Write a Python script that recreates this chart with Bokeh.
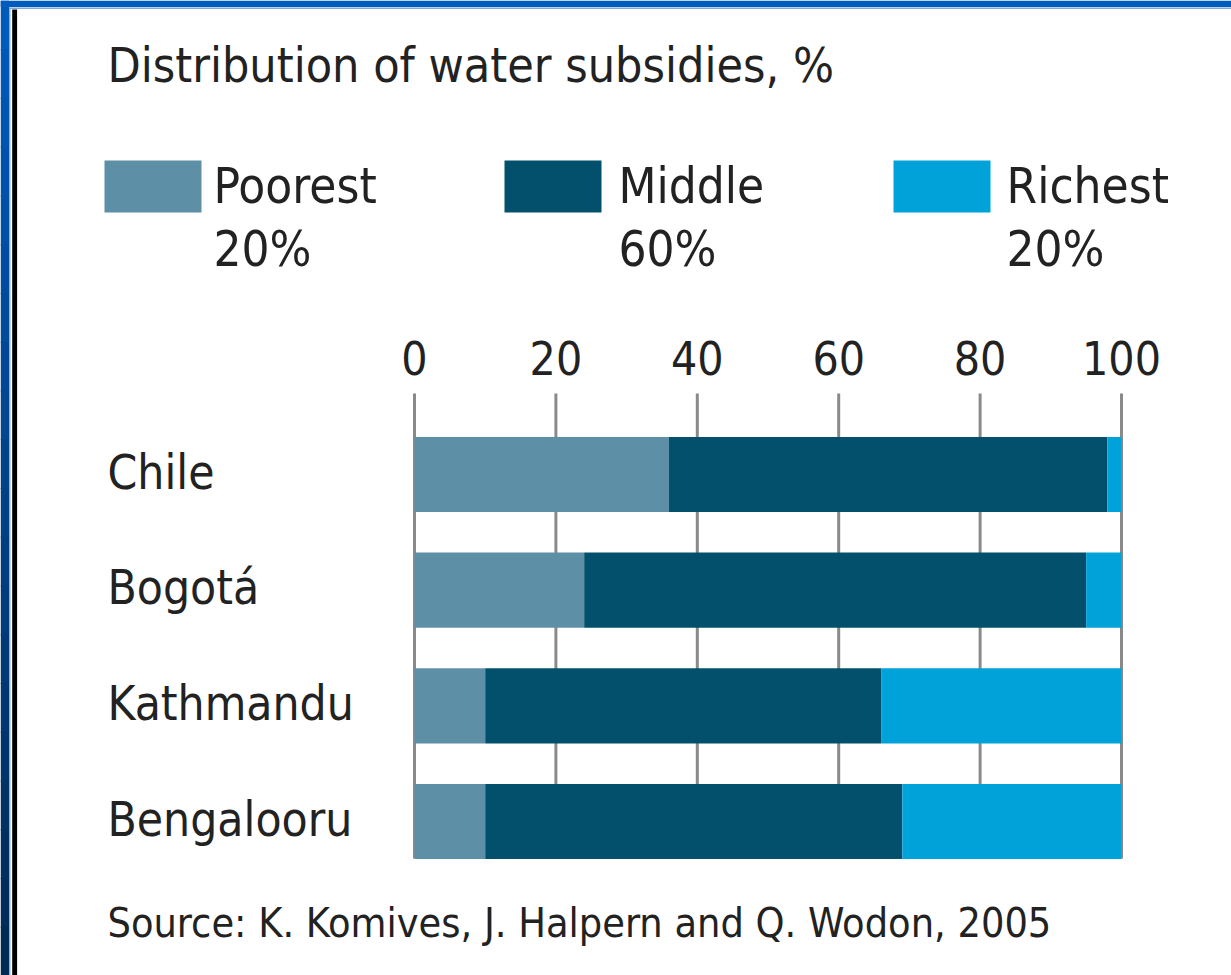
from bokeh.plotting import figure
from bokeh.models import ColumnDataSource, Range1d, Label
from bokeh.core.properties import value
from bokeh.embed import file_html
from bokeh.resources import INLINE

# ---------------- data ----------------
cities = ["Chile", "Bogotá", "Kathmandu", "Bengalooru"]
poorest = [36, 24, 10, 10]
middle = [62, 71, 56, 59]
richest = [2, 5, 34, 31]
tick_values = [0, 20, 40, 60, 80, 100]
tick_labels = ["0", "20", "40", "60", "80", "100"]
series_keys = ["poorest", "middle", "richest"]
legend_names = ["Poorest", "Middle", "Richest"]
legend_shares = ["20%", "60%", "20%"]
colors = ["#5d8fa6", "#02506b", "#00a2da"]
title_text = "Distribution of water subsidies, %"
source_text = "Source: K. Komives, J. Halpern and Q. Wodon, 2005"

# ---------------- layout constants (page pixels) ----------------
FONT = "DejaVu Sans Condensed, DejaVu Sans, sans-serif"
TXT = "#222222"
W, H = 1231, 975
PX_ZERO, PX_PER_UNIT = 414.0, 7.07     # page x of value 0, px per value unit
PY_FIRST, PY_STEP = 474.0, 115.67      # page y of first bar centre, px per row


def X(px):
    return (px - PX_ZERO) / PX_PER_UNIT


def Y(py):
    return (py - PY_FIRST) / PY_STEP


pos = list(range(len(cities)))
src = ColumnDataSource(dict(pos=pos, city=cities, poorest=poorest,
                            middle=middle, richest=richest))

p = figure(width=W, height=H, output_backend="svg", toolbar_location=None,
           x_range=Range1d(X(0), X(W)), y_range=Range1d(Y(H), Y(0)),
           x_axis_location=None, y_axis_location=None,
           min_border=0, min_border_left=0, min_border_right=0,
           min_border_top=0, min_border_bottom=0)
p.outline_line_color = None
p.background_fill_color = "white"
p.border_fill_color = "white"
p.xgrid.visible = False
p.ygrid.visible = False

# ---- frame decorations: blue border with gradient, light rule, black rule ----
nb = 20
band = H / nb


def lerp(a, b, t):
    return int(round(a + (b - a) * t))


band_cols = ["#%02x%02x%02x" % (lerp(0, 0, k / (nb - 1)), lerp(90, 42, k / (nb - 1)),
                                lerp(186, 86, k / (nb - 1))) for k in range(nb)]
p.quad(left=[X(0)] * nb, right=[X(8.5)] * nb,
       top=[Y(k * band) for k in range(nb)], bottom=[Y((k + 1) * band + 1) for k in range(nb)],
       fill_color=band_cols, line_color=None)
p.quad(left=[X(0)], right=[X(W)], top=[Y(0)], bottom=[Y(6.5)],
       fill_color="#005cbc", line_color=None)
p.quad(left=[X(8.5)], right=[X(10)], top=[Y(7)], bottom=[Y(H)],
       fill_color="#8fb0d6", line_color=None)
p.quad(left=[X(8.5)], right=[X(W)], top=[Y(7)], bottom=[Y(8.5)],
       fill_color="#7fa8d8", line_color=None)
p.quad(left=[X(11.7)], right=[X(16.6)], top=[Y(9)], bottom=[Y(H)],
       fill_color="black", line_color=None)

# vertical grid lines at the ticks, from the tick row down to the last bar
p.segment(x0=tick_values, x1=tick_values, y0=Y(393), y1=Y(858),
          line_color="#8a8a8a", line_width=3)

# stacked bars
p.hbar_stack(series_keys, y="pos", height=0.65, color=colors, line_color=None,
             source=src)

# tick labels
p.text(x=tick_values, y=[Y(357.5)] * len(tick_values), text=tick_labels,
       text_font=value(FONT), text_font_size="46px", text_color=TXT,
       text_align="center", text_baseline="alphabetic")

# category labels
p.text(x=[X(107)] * len(cities), y=[i - 2.5 / PY_STEP for i in pos], text=cities,
       text_font=value(FONT), text_font_size="47.5px", text_color=TXT,
       text_align="left", text_baseline="alphabetic")

# title
p.add_layout(Label(x=X(107), y=Y(64), text=title_text, text_font=FONT,
                   text_font_size="48px", text_color=TXT,
                   text_align="left", text_baseline="alphabetic"))

# legend
sw_left = [104, 504, 893]
txt_left = [213, 618, 1006]
p.quad(left=[X(v) for v in sw_left], right=[X(v + 97) for v in sw_left],
       top=[Y(160)] * 3, bottom=[Y(212)] * 3, fill_color=colors, line_color=None)
for i in range(3):
    p.add_layout(Label(x=X(txt_left[i]), y=Y(186), text=legend_names[i],
                       text_font=FONT, text_font_size="49px", text_color=TXT,
                       text_align="left", text_baseline="alphabetic"))
    p.add_layout(Label(x=X(txt_left[i]), y=Y(249), text=legend_shares[i],
                       text_font=FONT, text_font_size="49px", text_color=TXT,
                       text_align="left", text_baseline="alphabetic"))

# source
p.add_layout(Label(x=X(107), y=Y(922.5), text=source_text, text_font=FONT,
                   text_font_size="41px", text_color=TXT,
                   text_align="left", text_baseline="alphabetic"))

open("out.html", "w").write(file_html(p, INLINE))
